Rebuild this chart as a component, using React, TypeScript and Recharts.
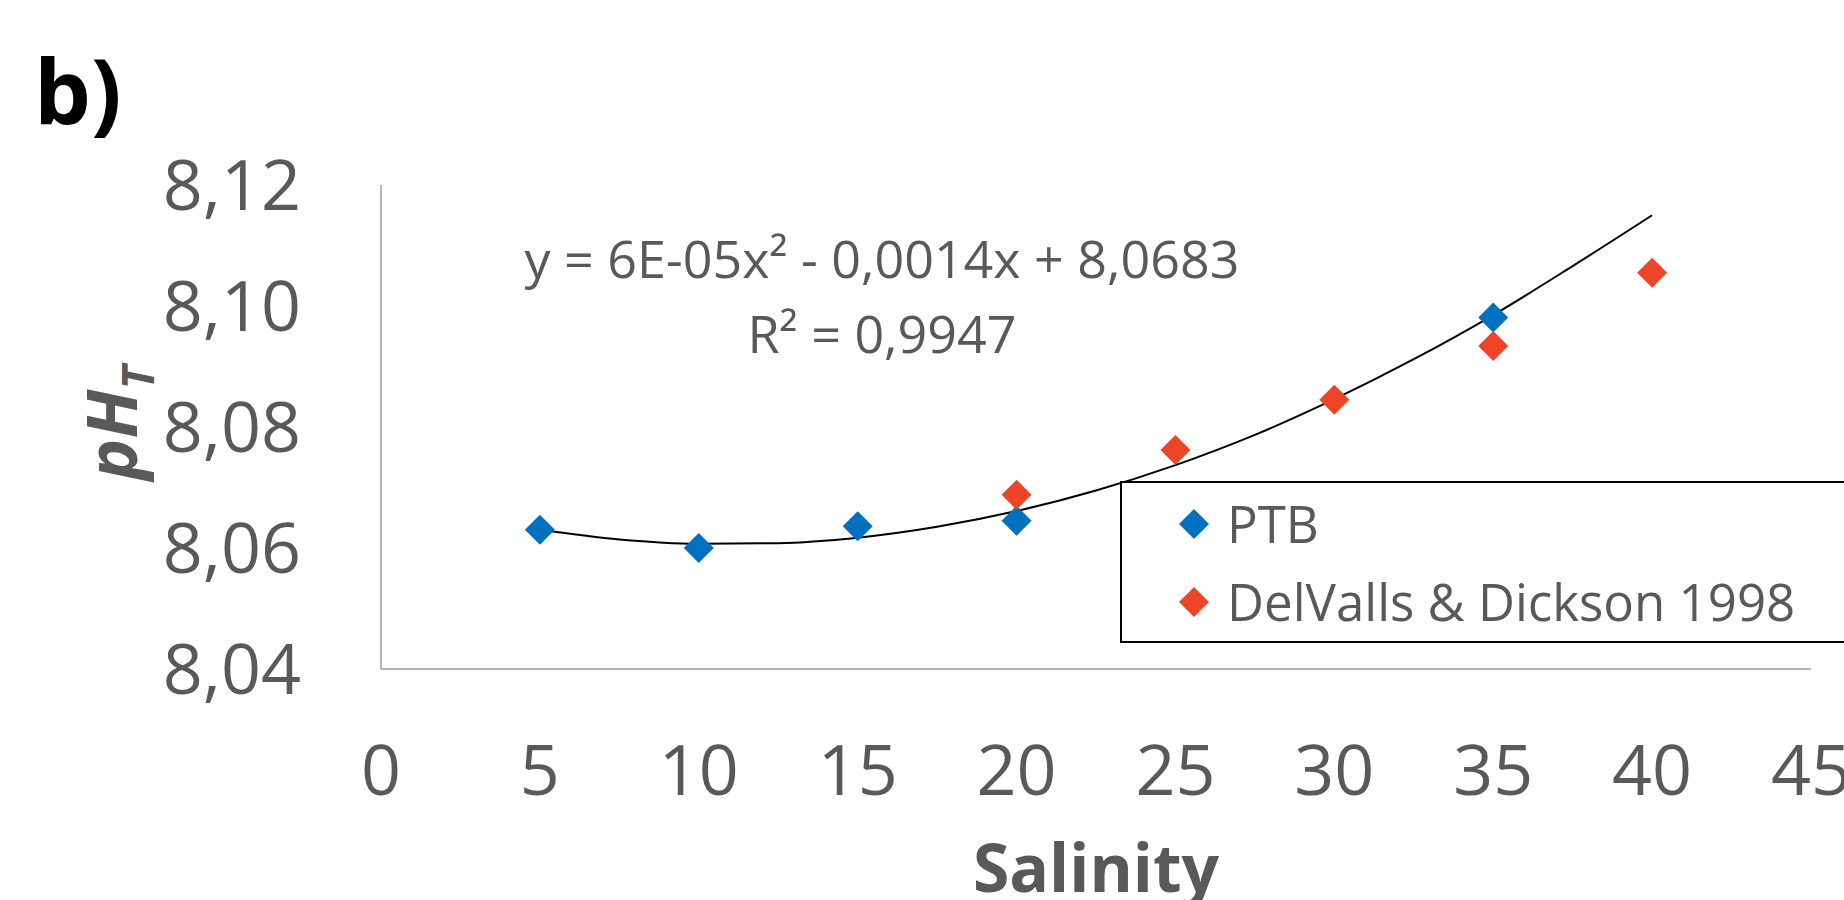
import React from 'react';
import { ComposedChart, Scatter, Line, XAxis, YAxis, Legend } from 'recharts';

// ---- data ----
const salinityTicks = [0, 5, 10, 15, 20, 25, 30, 35, 40, 45];
const phTicks = [8.04, 8.06, 8.08, 8.1, 8.12];

const ptbSalinity = [5, 10, 15, 20, 35];
const ptbPH = [8.063, 8.06, 8.0636, 8.0645, 8.0981];

const ddSalinity = [20, 25, 30, 35, 40];
const ddPH = [8.0688, 8.0762, 8.0845, 8.0934, 8.1055];

const trendSalinity = [5, 7.5, 10, 12.5, 15, 17.5, 20, 22.5, 25, 27.5, 30, 32.5, 35, 37.5, 40];
const trendPH = [8.063, 8.0614, 8.0607, 8.0608, 8.0617, 8.0635, 8.0661, 8.0695, 8.0737, 8.0787, 8.0846, 8.0912, 8.0985, 8.1066, 8.115];

const seriesNames = ['PTB', 'DelValls & Dickson 1998'];
const seriesColors = ['#0070C0', '#EE4427'];
const equationLines = ['y = 6E-05x\u00B2 - 0,0014x + 8,0683', 'R\u00B2 = 0,9947'];
const panelLabel = 'b)';
const xTitle = 'Salinity';

const ptbData = ptbSalinity.map((x, i) => ({ x, y: ptbPH[i] }));
const ddData = ddSalinity.map((x, i) => ({ x, y: ddPH[i] }));
const trendData = trendSalinity.map((x, i) => ({ x, y: trendPH[i] }));

const FONT = '"Open Sans", sans-serif';
const TEXT = '#595959';
const R = 15;

const Diamond = (props: any) => {
  const { cx, cy, fill } = props;
  if (cx == null || cy == null) return null;
  return (
    <polygon
      points={`${cx},${cy - R} ${cx + R},${cy} ${cx},${cy + R} ${cx - R},${cy}`}
      fill={fill}
    />
  );
};

const LegendBox = (props: any) => {
  const payload = (props.payload || [])
    .filter((p: any) => p.type !== 'none' && seriesNames.indexOf(p.value) >= 0)
    .slice()
    .sort((a: any, b: any) => seriesNames.indexOf(a.value) - seriesNames.indexOf(b.value));
  return (
    <svg width={800} height={162} style={{ display: 'block', overflow: 'visible' }}>
      <rect x={1} y={1} width={800} height={160} fill="#ffffff" stroke="#000000" strokeWidth={2} />
      {payload.map((p: any, i: number) => {
        const cy = 43 + i * 78;
        const color = p.color || seriesColors[i];
        return (
          <g key={i}>
            <polygon
              points={`74,${cy - R} ${74 + R},${cy} 74,${cy + R} ${74 - R},${cy}`}
              fill={color}
            />
            <text x={107} y={cy + 19} fill={TEXT} fontSize={51} fontFamily={FONT}>
              {p.value}
            </text>
          </g>
        );
      })}
    </svg>
  );
};

export default function App() {
  return (
    <div
      style={{
        position: 'absolute',
        left: 0,
        top: 0,
        width: 1844,
        height: 900,
        overflow: 'hidden',
        background: '#ffffff',
      }}
    >
      <ComposedChart
        width={1844}
        height={900}
        margin={{ top: 185, right: 33, bottom: 0, left: 0 }}
        style={{ fontFamily: FONT }}
      >
        <XAxis
          type="number"
          dataKey="x"
          domain={[0, 45]}
          ticks={salinityTicks}
          interval={0}
          height={231}
          tickLine={false}
          tickSize={0}
          tickMargin={76}
          axisLine={{ stroke: '#b4b4b4', strokeWidth: 2 }}
          tick={{ fill: TEXT, fontSize: 70, fontFamily: FONT }}
          allowDataOverflow
          label={{
            value: xTitle,
            position: 'insideBottom',
            offset: 8,
            fill: TEXT,
            fontSize: 66,
            fontWeight: 700,
            fontFamily: FONT,
          }}
        />
        <YAxis
          type="number"
          dataKey="y"
          domain={[8.04, 8.12]}
          ticks={phTicks}
          interval={0}
          width={381}
          tickLine={false}
          tickSize={0}
          tickMargin={80}
          axisLine={{ stroke: '#b4b4b4', strokeWidth: 2 }}
          tick={{ fill: TEXT, fontSize: 70, fontFamily: FONT }}
          tickFormatter={(v: number) => v.toFixed(2).replace('.', ',')}
          allowDataOverflow
        />
        <Legend
          layout="horizontal"
          verticalAlign="middle"
          align="center"
          content={<LegendBox />}
          wrapperStyle={{ left: 1120, top: 481, width: 800, height: 162 }}
        />
        <Line
          data={trendData}
          dataKey="y"
          type="monotone"
          stroke="#000000"
          strokeWidth={2}
          dot={false}
          activeDot={false}
          legendType="none"
          isAnimationActive={false}
        />
        <Scatter
          name={seriesNames[0]}
          data={ptbData}
          fill={seriesColors[0]}
          shape={<Diamond />}
          isAnimationActive={false}
        />
        <Scatter
          name={seriesNames[1]}
          data={ddData}
          fill={seriesColors[1]}
          shape={<Diamond />}
          isAnimationActive={false}
        />
        <text x={34} y={124} fill="#000000" fontSize={90} fontWeight={700} fontFamily={FONT}>
          {panelLabel}
        </text>
        <text
          transform="translate(137,423) rotate(-90)"
          textAnchor="middle"
          fill={TEXT}
          fontSize={70}
          fontWeight={700}
          fontStyle="italic"
          fontFamily={FONT}
        >
          pH
          <tspan dy={17} fontSize={45}>T</tspan>
        </text>
        {equationLines.map((t, i) => (
          <text
            key={i}
            x={882}
            y={278 + i * 75}
            textAnchor="middle"
            fill={TEXT}
            fontSize={52}
            fontFamily={FONT}
          >
            {t}
          </text>
        ))}
      </ComposedChart>
    </div>
  );
}
